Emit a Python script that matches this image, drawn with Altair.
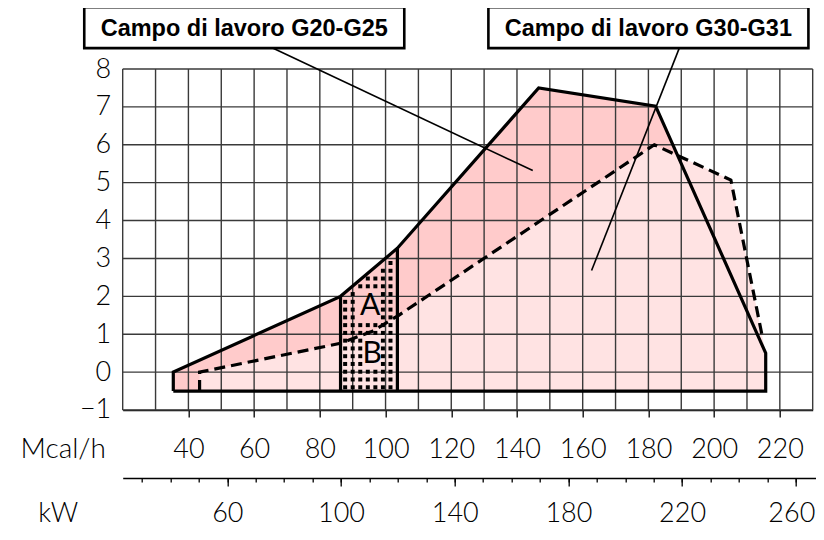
import altair as alt
import numpy as np
import pandas as pd

# ---------------- data (x in Mcal/h, y in chart units) ----------------
g20_x = [35.4, 86.3, 103.6, 146.6, 182.2, 215.7]
g20_y = [0.0, 2.0, 3.27, 7.5, 7.02, 0.5]
g30_x = [43.4, 86.3, 96.0, 104.0, 181.8, 205.1, 214.8, 215.7]
g30_y = [0.0, 0.76, 1.08, 1.5, 6.0, 5.07, 0.88, 0.5]
floor_y = -0.5
zone_x = [86.3, 103.6]
zone_top = [2.0, 3.27]

grid_x = list(range(20, 231, 10))
grid_y = list(range(-1, 9))
mcal_ticks = list(range(40, 221, 20))
kw_major = [60, 100, 140, 180, 220, 260]
kw_minor = list(range(30, 261, 10))

letters = ["A", "B"]
letters_x = [95.3, 95.9]
letters_y = [1.75, 0.48]

box_text = ["Campo di lavoro G20-G25", "Campo di lavoro G30-G31"]
box_x1 = [8.3, 131.3]
box_x2 = [105.7, 228.7]
box_y1 = [8.55, 8.55]
box_y2 = [9.63, 9.63]
lead_x1 = [65.8, 189.4]
lead_y1 = [8.55, 8.55]
lead_x2 = [144.8, 162.7]
lead_y2 = [5.32, 2.68]

# ---------------- tables ----------------
g20_df = pd.DataFrame({"x": g20_x, "y": g20_y, "y2": floor_y})
g30_df = pd.DataFrame({"x": g30_x, "y": g30_y, "y2": floor_y})

g20_path = pd.DataFrame({
    "x": [g20_x[0]] + g20_x + [g20_x[-1], g20_x[0]],
    "y": [floor_y] + g20_y + [floor_y, floor_y],
})
g20_path["o"] = range(len(g20_path))
g30_path = pd.DataFrame({
    "x": [g30_x[0]] + g30_x[:-1],
    "y": [floor_y] + g30_y[:-1],
})
g30_path["o"] = range(len(g30_path))

zone_df = pd.DataFrame({"x": zone_x, "y": zone_top, "y2": floor_y})
gx_df = pd.DataFrame({"x": grid_x, "y": grid_y[0], "y2": grid_y[-1]})
gy_df = pd.DataFrame({"y": grid_y, "x": grid_x[0], "x2": grid_x[-1]})
let_df = pd.DataFrame({"t": letters, "x": letters_x, "y": letters_y})
box_df = pd.DataFrame({"t": box_text, "x": box_x1, "x2": box_x2, "y": box_y1, "y2": box_y2})
box_df["xc"] = (box_df["x"] + box_df["x2"]) / 2
box_df["yc"] = (box_df["y"] + box_df["y2"]) / 2
lead_df = pd.DataFrame({"x": lead_x1, "y": lead_y1, "x2": lead_x2, "y2": lead_y2})

# dotted texture inside the A/B zone
cols = np.arange(87.7, 103.0, 2.3)
rows = np.arange(-0.4, 3.3, 0.205)
dots = []
for cx in cols:
    for ry in rows:
        top = np.interp(cx, g20_x, g20_y)
        if ry > top - 0.12:
            continue
        if abs(cx - letters_x[0]) < 3.2 and abs(ry - letters_y[0]) < 0.32:
            continue
        if abs(cx - letters_x[1]) < 3.2 and abs(ry - letters_y[1]) < 0.36:
            continue
        dots.append((cx, ry))
dot_df = pd.DataFrame(dots, columns=["x", "y"])

# ---------------- scales ----------------
xs = alt.Scale(domain=[20, 230], nice=False, zero=False)
ys = alt.Scale(domain=[-1, 8], nice=False, zero=False)
FONT = "Lato"
LW = 300


def X(f="x"):
    return alt.X(f"{f}:Q", scale=xs, axis=None)


def Y(f="y"):
    return alt.Y(f"{f}:Q", scale=ys, axis=None)


# axis carriers (invisible marks)
mcal_axis = alt.Chart(g20_df).mark_point(opacity=0).encode(
    x=alt.X("x:Q", scale=xs, axis=alt.Axis(
        orient="bottom",
        values=mcal_ticks, grid=False, tickSize=7, tickColor="black", tickWidth=1.3,
        domain=True, domainColor="black", domainWidth=1.5,
        labelFont=FONT, labelFontWeight=LW, labelFontSize=27, labelColor="black",
        labelBaseline="middle", labelPadding=33,
        title="Mcal/h", titleFont=FONT, titleFontWeight=LW, titleFontSize=28,
        titleColor="black", titleX=-60, titleY=40, titleAlign="center",
        titleBaseline="middle", titleAngle=0)),
    y=alt.Y("y:Q", scale=ys, axis=alt.Axis(
        orient="left",
        values=grid_y, grid=False, ticks=False, domain=False,
        labelFont=FONT, labelFontWeight=LW, labelFontSize=27, labelColor="black",
        labelPadding=12, labelBaseline="middle", title=None)),
)

area20 = alt.Chart(g20_df).mark_area(color="#FFCBCB").encode(x=X(), y=Y(), y2="y2:Q")
area30 = alt.Chart(g30_df).mark_area(color="#FFE3E3").encode(x=X(), y=Y(), y2="y2:Q")

gridv = alt.Chart(gx_df).mark_rule(color="#3a3a3a", strokeWidth=1.4).encode(
    x=X(), y=Y(), y2="y2:Q")
gridh = alt.Chart(gy_df).mark_rule(color="#3a3a3a", strokeWidth=1.4).encode(
    y=Y(), x=X(), x2="x2:Q")

dotl = alt.Chart(dot_df).mark_square(color="black", size=16, opacity=1).encode(x=X(), y=Y())

line20 = alt.Chart(g20_path).mark_line(color="black", strokeWidth=3.2, strokeJoin="miter").encode(
    x=X(), y=Y(), order="o:Q")
line30 = alt.Chart(g30_path).mark_line(color="black", strokeWidth=3.2, strokeDash=[11, 6]).encode(
    x=X(), y=Y(), order="o:Q")
zone = alt.Chart(zone_df).mark_rule(color="black", strokeWidth=3.2).encode(x=X(), y=Y(), y2="y2:Q")

lets = alt.Chart(let_df).mark_text(font=FONT, fontWeight=400, fontSize=30, color="black",
                                   baseline="middle", align="center").encode(
    x=X(), y=Y(), text="t:N")

leads = alt.Chart(lead_df).mark_rule(color="black", strokeWidth=1.6).encode(
    x=X(), y=Y(), x2="x2:Q", y2="y2:Q")
boxes = alt.Chart(box_df).mark_rect(fill="white", stroke="black", strokeWidth=2.6).encode(
    x=X(), x2="x2:Q", y=Y(), y2="y2:Q")
btxt = alt.Chart(box_df).mark_text(font="Liberation Sans", fontWeight="bold", fontSize=23.5,
                                   color="black", baseline="middle", align="center", dy=1).encode(
    x=X("xc"), y=Y("yc"), text="t:N")

kw_scale = alt.Scale(domain=[23.2, 267.0], range=[0, 693], nice=False, zero=False)
kw_df = pd.DataFrame({"kw": kw_major})
kw_minor_l = alt.Chart(kw_df).mark_point(opacity=0).encode(
    x=alt.X("kw:Q", scale=kw_scale, axis=alt.Axis(
        values=kw_minor, labels=False, tickSize=4, tickColor="black", tickWidth=1.3,
        offset=68, domain=True, domainColor="black", domainWidth=1.5, grid=False,
        title=None, orient="bottom")))
kw_major_l = alt.Chart(kw_df).mark_point(opacity=0).encode(
    x=alt.X("kw:Q", scale=kw_scale, axis=alt.Axis(
        values=kw_major, tickSize=8, tickColor="black", tickWidth=1.3,
        offset=68, domain=False, grid=False, orient="bottom",
        labelFont=FONT, labelFontWeight=LW, labelFontSize=27, labelColor="black",
        labelBaseline="middle", labelPadding=28,
        labelAlign={"condition": {"test": "datum.value >= 250", "value": "right"}, "value": "center"},
        labelOffset={"condition": {"test": "datum.value >= 250", "value": 19}, "value": 0},
        title="kW", titleFont=FONT, titleFontWeight=LW, titleFontSize=27,
        titleColor="black", titleX=-65, titleY=36, titleAlign="center",
        titleBaseline="middle", titleAngle=0)))

chart = alt.layer(
    area20, area30, gridv, gridh, dotl, line20, line30, zone, lets,
    leads, boxes, btxt, mcal_axis, kw_minor_l, kw_major_l,
).resolve_scale(x="independent").resolve_axis(x="independent", y="independent").properties(
    width=690, height=341,
    autosize=alt.AutoSizeParams(type="none"),
    padding={"left": 114.7, "top": 61, "right": 3, "bottom": 118},
    background="white",
).configure_view(stroke=None)

chart.save("out.html", embed_options={"renderer": "svg", "actions": False})
